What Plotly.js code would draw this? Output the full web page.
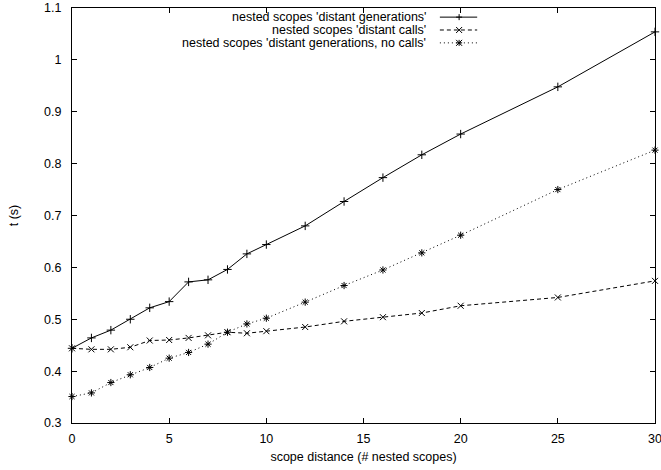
<!DOCTYPE html>
<html><head><meta charset="utf-8">
<script src="https://cdn.plot.ly/plotly-3.0.1.min.js"></script>
<style>html,body{margin:0;padding:0;background:#fff}#c{width:661px;height:470px}</style>
</head><body><div id="c"></div>
<script>
const xGen = [0,1,2,3,4,5,6,7,8,9,10,12,14,16,18,20,25,30];
const yGen = [0.444,0.464,0.479,0.500,0.522,0.534,0.572,0.576,0.596,0.626,0.644,0.680,0.727,0.773,0.817,0.857,0.948,1.054];
const yCalls = [0.444,0.442,0.442,0.446,0.459,0.460,0.464,0.469,0.475,0.473,0.477,0.485,0.496,0.504,0.512,0.526,0.542,0.574];
const yNoCalls = [0.351,0.358,0.378,0.393,0.407,0.425,0.436,0.452,0.475,0.491,0.502,0.533,0.565,0.595,0.628,0.662,0.750,0.826];
const names = ["nested scopes 'distant generations'","nested scopes 'distant calls'","nested scopes 'distant generations, no calls'"];
const xTicks = [0,5,10,15,20,25,30];
const yTicks = [0.3,0.4,0.5,0.6,0.7,0.8,0.9,1.0,1.1];

const FONT = "Liberation Sans, Arial, Helvetica, sans-serif";
const FS = 12.5;
const dashes = ['solid','4px,3px','1px,3px'];
const symbols = ['cross-thin-open','x-thin-open','asterisk-open'];
const ys = [yGen,yCalls,yNoCalls];
const traces = ys.map((y,i)=>({
  x:xGen, y:y, type:'scatter', mode:'lines+markers', name:names[i], showlegend:false, cliponaxis:false,
  line:{color:'#000',width:1,dash:dashes[i]},
  marker:{symbol:symbols[i],size:6,color:'#000',line:{color:'#000',width:1}}
}));

const rowsY=[0.978,0.947,0.916];
const annotations = names.map((n,i)=>({
  xref:'paper',yref:'paper',x:0.611,y:rowsY[i],xanchor:'right',yanchor:'middle',
  text:n,showarrow:false,font:{family:FONT,size:FS,color:'#000'}
}));
const glyphs = ['M-3,0H3M0,-3V3','M-3,-3L3,3M-3,3L3,-3','M-3,0H3M0,-3V3M-3,-3L3,3M-3,3L3,-3'];
const shapes = [];
names.forEach((n,i)=>{
  shapes.push({type:'line',xref:'paper',yref:'paper',x0:0.631,x1:0.695,y0:rowsY[i],y1:rowsY[i],
    line:{color:'#000',width:1,dash:dashes[i]}});
  shapes.push({type:'path',xref:'paper',yref:'paper',xsizemode:'pixel',ysizemode:'pixel',
    xanchor:0.664,yanchor:rowsY[i],path:glyphs[i],line:{color:'#000',width:1}});
});

const layout = {
  width:661,height:470,margin:{l:72,r:6,t:8,b:47},
  paper_bgcolor:'#fff',plot_bgcolor:'#fff',
  font:{family:FONT,size:FS,color:'#000'},
  showlegend:false,
  xaxis:{range:[0,30],tickvals:xTicks,ticks:'inside',ticklen:5,tickcolor:'#000',
    showline:true,mirror:'ticks',linecolor:'#000',linewidth:1,showgrid:false,zeroline:false,
    ticklabeloverflow:'allow',ticklabelstandoff:4,
    tickfont:{family:FONT,size:FS},
    title:{text:'scope distance (# nested scopes)',font:{family:FONT,size:FS},standoff:7}},
  yaxis:{range:[0.3,1.1],tickvals:yTicks,ticktext:yTicks.map(v=>String(+v.toFixed(1))),ticks:'inside',ticklen:5,tickcolor:'#000',
    showline:true,mirror:'ticks',linecolor:'#000',linewidth:1,showgrid:false,zeroline:false,
    ticklabelstandoff:7,
    tickfont:{family:FONT,size:FS},
    title:{text:'t (s)',font:{family:FONT,size:FS},standoff:22}},
  annotations:annotations, shapes:shapes
};
Plotly.newPlot('c',traces,layout,{staticPlot:true});
</script></body></html>
